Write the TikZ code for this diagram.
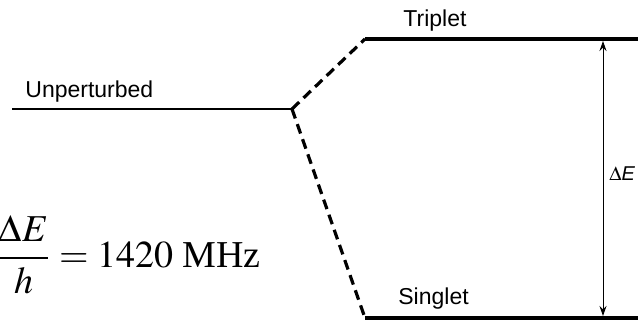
\documentclass[tikz,border=0pt]{standalone}
\usepackage{amsmath}
\usepackage{mathptmx}
\usepackage{fontspec}
\setmainfont{Liberation Serif}
\setsansfont{Liberation Sans}
\usetikzlibrary{arrows.meta,positioning}

\begin{document}
\begin{tikzpicture}[
        x=0.5pt, y=-0.5pt,
        level/.style={line width=1.6pt},
        thinlevel/.style={line width=1.3pt},
        splitline/.style={line width=1.6pt, dash pattern=on 5pt off 3pt},
        gap/.style={<->, line width=0.5pt, >={Stealth[length=5pt, width=3.5pt]}},
        lbl/.style={font=\sffamily\fontsize{11.5}{13}\selectfont, inner sep=0pt},
        small/.style={font=\sffamily\fontsize{10}{12}\selectfont, inner sep=0pt}
    ]

    \useasboundingbox (0,0) rectangle (638,324);
    \clip (0,0) rectangle (638,324);

    % Level end points
    \coordinate (u0) at (12,109);
    \coordinate (u1) at (292,109);
    \coordinate (t0) at (365,39);
    \coordinate (t1) at (640,39);
    \coordinate (s0) at (365,318);
    \coordinate (s1) at (640,318);

    % Energy levels
    \draw[thinlevel] (u0) -- (u1);
    \draw[level] (t0) -- (t1);
    \draw[level] (s0) -- (s1);

    % Splitting (dashed)
    \draw[splitline] (u1) -- (t0);
    \draw[splitline] (u1) -- (s0);

    % Level labels
    \node[lbl, anchor=base west] (unp) at (25,98) {Unperturbed};
    \node[lbl, anchor=base west] (trip) at (403,27) {Triplet};
    \node[lbl, anchor=base west] (sing) at (398,305) {Singlet};

    % Splitting arrow
    \coordinate (a0) at (603,41);
    \coordinate (a1) at (603,316);
    \draw[gap] (a0) -- (a1);
    \node[small, anchor=base west] (dE) at (609,181) {$\Delta$\textit{E}};

    % Frequency
    \node[inner sep=0pt, anchor=east, font=\fontsize{19}{22}\selectfont] (freq) at (261,255)
        {$\dfrac{\Delta E}{h} = 1420$ MHz};

\end{tikzpicture}
\end{document}
